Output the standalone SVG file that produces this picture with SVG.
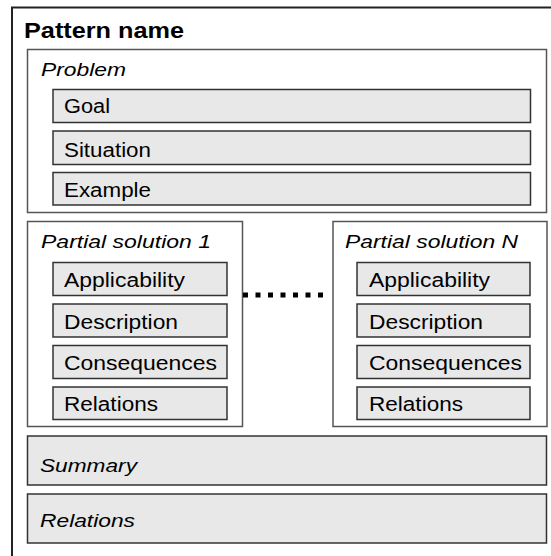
<svg xmlns="http://www.w3.org/2000/svg" width="551" height="556" viewBox="0 0 551 556">
<style>
text{font-family:"Liberation Sans",Arial,sans-serif;fill:#000;}
.t{font-size:20px;}
.i{font-size:19px;font-style:italic;}
.h{font-size:21.5px;font-weight:bold;}
.frame{fill:#fff;stroke:#555;stroke-width:1.5;}
.item{fill:#e8e8e8;stroke:#333;stroke-width:1.5;}
.dots{stroke:#000;stroke-width:5;stroke-dasharray:5 7.5;fill:none;}
</style>
<rect width="551" height="556" fill="#fff"/>
<g id="pattern">
<path d="M12 556V7.5H551" fill="none" stroke="#222" stroke-width="2"/>
<text class="h" x="24" y="37.5" textLength="160" lengthAdjust="spacingAndGlyphs">Pattern name</text>
</g>
<g id="problem">
<rect class="frame" x="27.5" y="49.5" width="519" height="163"/>
<text class="i" x="41" y="76" textLength="85" lengthAdjust="spacingAndGlyphs">Problem</text>
<g id="goal"><rect class="item" x="53" y="89.5" width="477.5" height="33"/><text class="t" x="64" y="113" textLength="46" lengthAdjust="spacingAndGlyphs">Goal</text></g>
<g id="situation"><rect class="item" x="53" y="131" width="477.5" height="33.5"/><text class="t" x="64" y="156.5" textLength="87" lengthAdjust="spacingAndGlyphs">Situation</text></g>
<g id="example"><rect class="item" x="53" y="172.5" width="477.5" height="32.5"/><text class="t" x="64" y="196.5" textLength="87" lengthAdjust="spacingAndGlyphs">Example</text></g>
</g>
<g id="partial1">
<rect class="frame" x="27.5" y="221.5" width="215" height="205"/>
<text class="i" x="41" y="247.5" textLength="170" lengthAdjust="spacingAndGlyphs">Partial solution 1</text>
<g><rect class="item" x="53" y="262.5" width="174" height="33"/><text class="t" x="64" y="287" textLength="121" lengthAdjust="spacingAndGlyphs">Applicability</text></g>
<g><rect class="item" x="53" y="304" width="174" height="33"/><text class="t" x="64" y="328.5" textLength="114" lengthAdjust="spacingAndGlyphs">Description</text></g>
<g><rect class="item" x="53" y="345.5" width="174" height="33"/><text class="t" x="64" y="369.5" textLength="153" lengthAdjust="spacingAndGlyphs">Consequences</text></g>
<g><rect class="item" x="53" y="387" width="174" height="32.5"/><text class="t" x="64" y="410.5" textLength="94" lengthAdjust="spacingAndGlyphs">Relations</text></g>
</g>
<g id="partialN">
<rect class="frame" x="333" y="221.5" width="214" height="205"/>
<text class="i" x="345" y="247.5" textLength="173" lengthAdjust="spacingAndGlyphs">Partial solution N</text>
<g><rect class="item" x="357" y="262.5" width="173" height="33"/><text class="t" x="369" y="287" textLength="121" lengthAdjust="spacingAndGlyphs">Applicability</text></g>
<g><rect class="item" x="357" y="304" width="173" height="33"/><text class="t" x="369" y="328.5" textLength="114" lengthAdjust="spacingAndGlyphs">Description</text></g>
<g><rect class="item" x="357" y="345.5" width="173" height="33"/><text class="t" x="369" y="369.5" textLength="153" lengthAdjust="spacingAndGlyphs">Consequences</text></g>
<g><rect class="item" x="357" y="387" width="173" height="32.5"/><text class="t" x="369" y="410.5" textLength="94" lengthAdjust="spacingAndGlyphs">Relations</text></g>
</g>
<g id="connectors">
<line class="dots" x1="243" y1="295" x2="330" y2="295"/>
</g>
<g id="summary">
<rect class="item" x="27.5" y="436" width="519" height="49"/>
<text class="i" x="40" y="472" textLength="97" lengthAdjust="spacingAndGlyphs">Summary</text>
</g>
<g id="relations">
<rect class="item" x="27.5" y="494" width="519" height="49"/>
<text class="i" x="40" y="527" textLength="95" lengthAdjust="spacingAndGlyphs">Relations</text>
</g>
</svg>
